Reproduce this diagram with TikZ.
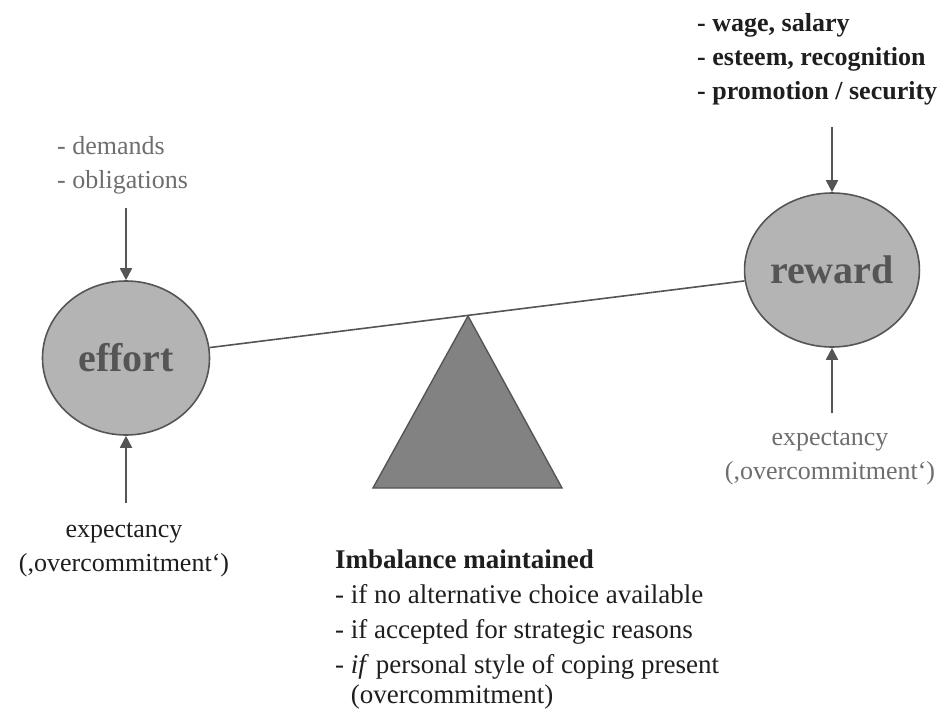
\documentclass[tikz,border=0pt]{standalone}
\usepackage{fontspec}
\setmainfont{Liberation Serif}
\usepackage{tikz}
\usetikzlibrary{arrows.meta,shapes.geometric,positioning}
\definecolor{EriInk}{HTML}{1E1E1E}
\definecolor{EriGrey}{HTML}{6E6E6E}
\definecolor{EriEdge}{HTML}{555555}
\definecolor{EriBall}{HTML}{B4B4B4}
\definecolor{EriPivot}{HTML}{828282}
\newcommand{\EriFont}{\fontsize{26}{34}\selectfont}

\begin{document}
\begin{tikzpicture}[x=1pt,y=-1pt,
  ball/.style={ellipse,draw=EriEdge,line width=1.6pt,fill=EriBall,
    minimum width=167pt,minimum height=154pt,inner sep=0pt,
    text=EriEdge,font=\fontsize{40}{40}\selectfont\bfseries},
  push/.style={EriEdge,line width=1.8pt,-{Triangle[width=12pt,length=12pt]}},
  label/.style={inner sep=0pt,font=\EriFont}]
  \useasboundingbox (0,0) rectangle (945,709);
  % balance: two weights, beam and fulcrum
  \node[ball] (effort) at (126,358) {effort};
  \node[ball] (reward) at (832,270) {reward};
  \draw[EriEdge,line width=1.6pt] (effort) -- (reward);
  \draw[EriEdge,line width=1.4pt,fill=EriPivot] (468,316) -- (373,488) -- (562,488) -- cycle;
  % what acts on effort
  \node[label,text=EriGrey,align=left,anchor=west] (demands) at (57,165)
    {- demands\\- obligations};
  \coordinate (effortin) at (126,208);
  \draw[push] (effortin) -- (effort);
  \node[label,text=EriInk,align=center] (effortexp) at (124,550)
    {expectancy\\(,overcommitment`)};
  \coordinate (effortup) at (126,503);
  \draw[push] (effortup) -- (effort);
  % what acts on reward
  \node[label,text=EriInk,align=left,anchor=west,font=\EriFont\bfseries] (gains) at (697,59)
    {- wage, salary\\- esteem, recognition\\- promotion / security};
  \coordinate (rewardin) at (832,127);
  \draw[push] (rewardin) -- (reward);
  \node[label,text=EriGrey,align=center] (rewardexp) at (830,458)
    {expectancy\\(,overcommitment`)};
  \coordinate (rewardup) at (832,413);
  \draw[push] (rewardup) -- (reward);
  % conditions
  \node[label,text=EriInk,align=left,anchor=north west,font=\fontsize{27}{35}\selectfont] (imbalance) at (335,550)
    {\textbf{Imbalance maintained}\\
     - if no alternative choice available\\
     - if accepted for strategic reasons\\
     - \textit{if} personal style of coping present\\[-5pt]
     \hphantom{- }(overcommitment)};
\end{tikzpicture}
\end{document}
